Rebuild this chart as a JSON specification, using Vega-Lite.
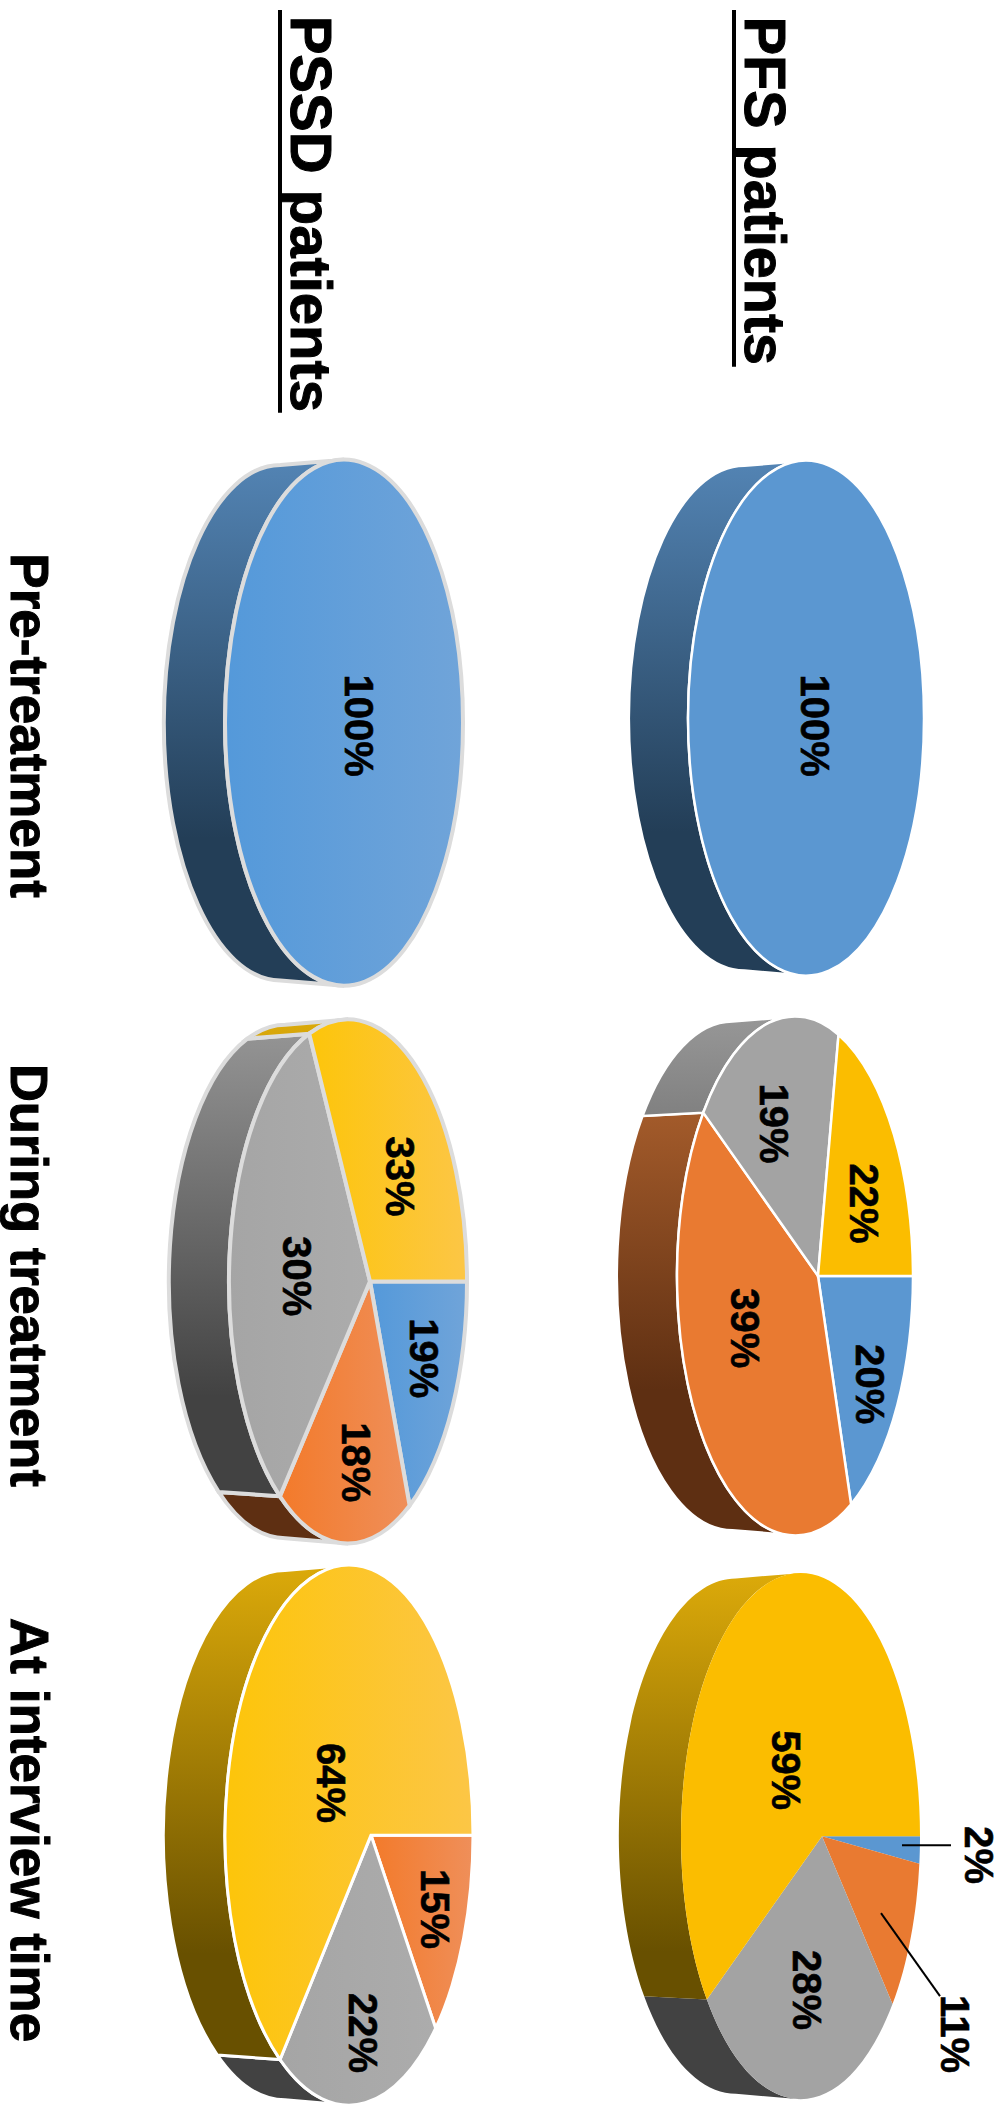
{
  "$schema": "https://vega.github.io/schema/vega-lite/v6.json",
  "width": 1005,
  "height": 2111,
  "padding": 0,
  "autosize": {"type": "fit", "contains": "padding"},
  "background": "white",
  "config": {"view": {"stroke": null}},
  "params": [
    {"name": "geom", "value": {
      "PFS|Pre-treatment": {"ax": 829, "ay": 718.5, "R": 95, "L": 141, "ry": 257.5, "D": 62, "sw": 2.5},
      "PFS|During treatment": {"ax": 818, "ay": 1276.5, "R": 95, "L": 141, "ry": 259.5, "D": 63, "sw": 2.5},
      "PFS|At interview time": {"ax": 822, "ay": 1837, "R": 98, "L": 141, "ry": 263, "D": 65, "sw": 0},
      "PSSD|Pre-treatment": {"ax": 365, "ay": 723, "R": 98, "L": 140, "ry": 263, "D": 64, "sw": 4},
      "PSSD|During treatment": {"ax": 370, "ay": 1282, "R": 97, "L": 141, "ry": 262, "D": 63, "sw": 4},
      "PSSD|At interview time": {"ax": 371, "ay": 1836, "R": 102, "L": 146, "ry": 270, "D": 64.5, "sw": 3}
    }},
    {"name": "labelAt", "value": {
      "PFS|Pre-treatment|A": [813, 726],
      "PFS|During treatment|A": [868, 1385],
      "PFS|During treatment|B": [743, 1329],
      "PFS|During treatment|C": [772, 1124],
      "PFS|During treatment|D": [862, 1204],
      "PFS|At interview time|A": [977, 1856],
      "PFS|At interview time|B": [953, 2035],
      "PFS|At interview time|C": [805, 1991],
      "PFS|At interview time|D": [784, 1771],
      "PSSD|Pre-treatment|A": [357, 726],
      "PSSD|During treatment|A": [422, 1359],
      "PSSD|During treatment|B": [354, 1463],
      "PSSD|During treatment|C": [295, 1277],
      "PSSD|During treatment|D": [398, 1177],
      "PSSD|At interview time|B": [433, 1910],
      "PSSD|At interview time|C": [361, 2034],
      "PSSD|At interview time|D": [329, 1784]
    }},
    {"name": "leader", "value": {
      "PFS|At interview time|A": [902, 1846, 951, 1846],
      "PFS|At interview time|B": [881, 1914, 940, 1997]
    }},
    {"name": "caption", "value": {
      "PFS patients": {"x": 745, "y": 191, "size": 57.5, "rule": [734, 10, 367]},
      "PSSD patients": {"x": 291, "y": 214, "size": 58, "rule": [280, 10, 413]},
      "Pre-treatment": {"x": 11, "y": 726, "size": 53},
      "During treatment": {"x": 11, "y": 1276, "size": 52.5},
      "At interview time": {"x": 11, "y": 1831, "size": 53}
    }}
  ],
  "data": {"values": [
    {"group": "PFS", "time": "Pre-treatment", "category": "A", "value": 100},
    {"group": "PFS", "time": "During treatment", "category": "A", "value": 20},
    {"group": "PFS", "time": "During treatment", "category": "B", "value": 39},
    {"group": "PFS", "time": "During treatment", "category": "C", "value": 19},
    {"group": "PFS", "time": "During treatment", "category": "D", "value": 22},
    {"group": "PFS", "time": "At interview time", "category": "A", "value": 2},
    {"group": "PFS", "time": "At interview time", "category": "B", "value": 11},
    {"group": "PFS", "time": "At interview time", "category": "C", "value": 28},
    {"group": "PFS", "time": "At interview time", "category": "D", "value": 59},
    {"group": "PSSD", "time": "Pre-treatment", "category": "A", "value": 100},
    {"group": "PSSD", "time": "During treatment", "category": "A", "value": 19},
    {"group": "PSSD", "time": "During treatment", "category": "B", "value": 18},
    {"group": "PSSD", "time": "During treatment", "category": "C", "value": 30},
    {"group": "PSSD", "time": "During treatment", "category": "D", "value": 33},
    {"group": "PSSD", "time": "At interview time", "category": "B", "value": 15},
    {"group": "PSSD", "time": "At interview time", "category": "C", "value": 22},
    {"group": "PSSD", "time": "At interview time", "category": "D", "value": 64}
  ]},
  "transform": [
    {"calculate": "datum.group+'|'+datum.time", "as": "pie"},
    {"calculate": "datum.pie+'|'+datum.category", "as": "key"},
    {"calculate": "geom[datum.pie]", "as": "g"},
    {"joinaggregate": [{"op": "sum", "field": "value", "as": "total"}], "groupby": ["pie"]},
    {"window": [{"op": "sum", "field": "value", "as": "cum"}], "groupby": ["pie"], "sort": [{"field": "category", "order": "ascending"}], "frame": [null, 0]},
    {"calculate": "2*PI*(datum.cum-datum.value)/datum.total", "as": "t0"},
    {"calculate": "2*PI*datum.cum/datum.total", "as": "t1"},
    {"calculate": "(datum.g.L-datum.g.R)/(datum.g.L+datum.g.R)", "as": "k"},
    {"calculate": "datum.g.R*(1+datum.k)", "as": "a"},
    {"calculate": "datum.g.ry*sqrt(1-datum.k*datum.k)", "as": "c"},
    {"calculate": "(datum.g.L+datum.g.R)/2", "as": "rx"},
    {"calculate": "datum.t0+(datum.t1-datum.t0)*0.25", "as": "th1"},
    {"calculate": "datum.t0+(datum.t1-datum.t0)*0.5", "as": "th2"},
    {"calculate": "datum.t0+(datum.t1-datum.t0)*0.75", "as": "th3"},
    {"calculate": "round(100*datum.a*cos(datum.t0)/(1+datum.k*cos(datum.t0)))/100+','+round(100*datum.c*sin(datum.t0)/(1+datum.k*cos(datum.t0)))/100", "as": "p0"},
    {"calculate": "round(100*datum.a*cos(datum.th1)/(1+datum.k*cos(datum.th1)))/100+','+round(100*datum.c*sin(datum.th1)/(1+datum.k*cos(datum.th1)))/100", "as": "p1"},
    {"calculate": "round(100*datum.a*cos(datum.th2)/(1+datum.k*cos(datum.th2)))/100+','+round(100*datum.c*sin(datum.th2)/(1+datum.k*cos(datum.th2)))/100", "as": "p2"},
    {"calculate": "round(100*datum.a*cos(datum.th3)/(1+datum.k*cos(datum.th3)))/100+','+round(100*datum.c*sin(datum.th3)/(1+datum.k*cos(datum.th3)))/100", "as": "p3"},
    {"calculate": "round(100*datum.a*cos(datum.t1)/(1+datum.k*cos(datum.t1)))/100+','+round(100*datum.c*sin(datum.t1)/(1+datum.k*cos(datum.t1)))/100", "as": "p4"},
    {"calculate": "'A'+datum.rx+','+datum.g.ry+' 0 0 1 '", "as": "arc"},
    {"calculate": "(datum.value<datum.total?'M0,0L':'M')+datum.p0+datum.arc+datum.p1+datum.arc+datum.p2+datum.arc+datum.p3+datum.arc+datum.p4+'Z'", "as": "facePath"},
    {"calculate": "acos(-datum.k)", "as": "tv"},
    {"calculate": "max(datum.t0,datum.tv)", "as": "w0"},
    {"calculate": "min(datum.t1,2*PI-datum.tv)", "as": "w1"},
    {"calculate": "datum.a*cos(datum.w0)/(1+datum.k*cos(datum.w0))", "as": "ax0"},
    {"calculate": "datum.c*sin(datum.w0)/(1+datum.k*cos(datum.w0))", "as": "ay0"},
    {"calculate": "datum.a*cos(datum.w1)/(1+datum.k*cos(datum.w1))", "as": "ax1"},
    {"calculate": "datum.c*sin(datum.w1)/(1+datum.k*cos(datum.w1))", "as": "ay1"},
    {"calculate": "'M'+(datum.g.R-datum.g.L)/2+','+(-datum.g.ry)+'L'+(datum.g.R-datum.g.L)/2+','+datum.g.ry+'Z'+'M'+round(datum.ax0*100)/100+','+round(datum.ay0*100)/100+datum.arc+round(datum.ax1*100)/100+','+round(datum.ay1*100)/100+'L'+round((0.98*datum.ax1-datum.g.D)*100)/100+','+round(0.98*datum.ay1*100)/100+'A'+0.98*datum.rx+','+0.98*datum.g.ry+' 0 0 0 '+round((0.98*datum.ax0-datum.g.D)*100)/100+','+round(0.98*datum.ay0*100)/100+'Z'", "as": "wallPath"},
    {"calculate": "datum.value+'%'", "as": "label"},
    {"calculate": "labelAt[datum.key][0]", "as": "lx"},
    {"calculate": "labelAt[datum.key][1]", "as": "ly"}
  ],
  "encoding": {
    "x": {"field": "g.ax", "type": "quantitative", "scale": {"domain": [0, 1005]}, "axis": null},
    "y": {"field": "g.ay", "type": "quantitative", "scale": {"domain": [2111, 0]}, "axis": null},
    "stroke": {"field": "pie", "type": "nominal", "legend": null, "scale": {
      "domain": ["PFS|Pre-treatment", "PFS|During treatment", "PFS|At interview time", "PSSD|Pre-treatment", "PSSD|During treatment", "PSSD|At interview time"],
      "range": ["#ffffff", "#ffffff", "#ffffff", "#dcdcdc", "#dcdcdc", "#ffffff"]}},
    "strokeWidth": {"field": "g.sw", "type": "quantitative", "scale": null, "legend": null}
  },
  "layer": [
    {
      "transform": [{"filter": "datum.w0<datum.w1 && datum.category==='A'"}],
      "mark": {"type": "point", "filled": true, "size": 4, "opacity": 1, "fill": {"gradient": "linear", "x1": 0, "y1": 0, "x2": 0, "y2": 1, "stops": [{"offset": 0, "color": "#5384b4"}, {"offset": 0.72, "color": "#233e57"}, {"offset": 1, "color": "#233e57"}]}},
      "encoding": {"shape": {"field": "wallPath", "type": "nominal", "scale": null}}
    },
    {
      "transform": [{"filter": "datum.w0<datum.w1 && datum.category==='B'"}],
      "mark": {"type": "point", "filled": true, "size": 4, "opacity": 1, "fill": {"gradient": "linear", "x1": 0, "y1": 0, "x2": 0, "y2": 1, "stops": [{"offset": 0, "color": "#bb6a33"}, {"offset": 0.72, "color": "#5e2f12"}, {"offset": 1, "color": "#5e2f12"}]}},
      "encoding": {"shape": {"field": "wallPath", "type": "nominal", "scale": null}}
    },
    {
      "transform": [{"filter": "datum.w0<datum.w1 && datum.category==='C'"}],
      "mark": {"type": "point", "filled": true, "size": 4, "opacity": 1, "fill": {"gradient": "linear", "x1": 0, "y1": 0, "x2": 0, "y2": 1, "stops": [{"offset": 0, "color": "#979797"}, {"offset": 0.72, "color": "#424242"}, {"offset": 1, "color": "#424242"}]}},
      "encoding": {"shape": {"field": "wallPath", "type": "nominal", "scale": null}}
    },
    {
      "transform": [{"filter": "datum.w0<datum.w1 && datum.category==='D'"}],
      "mark": {"type": "point", "filled": true, "size": 4, "opacity": 1, "fill": {"gradient": "linear", "x1": 0, "y1": 0, "x2": 0, "y2": 1, "stops": [{"offset": 0, "color": "#dcaa0a"}, {"offset": 0.72, "color": "#685000"}, {"offset": 1, "color": "#685000"}]}},
      "encoding": {"shape": {"field": "wallPath", "type": "nominal", "scale": null}}
    },
    {
      "transform": [{"filter": "datum.group==='PFS'"}],
      "mark": {"type": "point", "filled": true, "size": 4, "opacity": 1},
      "encoding": {
        "shape": {"field": "facePath", "type": "nominal", "scale": null},
        "fill": {"field": "category", "type": "nominal", "legend": null, "scale": {"domain": ["A", "B", "C", "D"], "range": ["#5b97d1", "#e97a31", "#a3a3a3", "#fbbd00"]}}
      }
    },
    {
      "transform": [{"filter": "datum.group==='PSSD' && datum.category==='A'"}],
      "mark": {"type": "point", "filled": true, "size": 4, "opacity": 1, "fill": {"gradient": "linear", "x1": 0, "y1": 0, "x2": 1, "y2": 0, "stops": [{"offset": 0, "color": "#5499da"}, {"offset": 1, "color": "#70a4d9"}]}},
      "encoding": {"shape": {"field": "facePath", "type": "nominal", "scale": null}}
    },
    {
      "transform": [{"filter": "datum.group==='PSSD' && datum.category==='B'"}],
      "mark": {"type": "point", "filled": true, "size": 4, "opacity": 1, "fill": {"gradient": "linear", "x1": 0, "y1": 0, "x2": 1, "y2": 0, "stops": [{"offset": 0, "color": "#f37a2a"}, {"offset": 1, "color": "#ef8f5a"}]}},
      "encoding": {"shape": {"field": "facePath", "type": "nominal", "scale": null}}
    },
    {
      "transform": [{"filter": "datum.group==='PSSD' && datum.category==='C'"}],
      "mark": {"type": "point", "filled": true, "size": 4, "opacity": 1, "fill": {"gradient": "linear", "x1": 0, "y1": 0, "x2": 1, "y2": 0, "stops": [{"offset": 0, "color": "#a5a5a5"}, {"offset": 1, "color": "#acacac"}]}},
      "encoding": {"shape": {"field": "facePath", "type": "nominal", "scale": null}}
    },
    {
      "transform": [{"filter": "datum.group==='PSSD' && datum.category==='D'"}],
      "mark": {"type": "point", "filled": true, "size": 4, "opacity": 1, "fill": {"gradient": "linear", "x1": 0, "y1": 0, "x2": 1, "y2": 0, "stops": [{"offset": 0, "color": "#fdc50a"}, {"offset": 1, "color": "#fcc646"}]}},
      "encoding": {"shape": {"field": "facePath", "type": "nominal", "scale": null}}
    },
    {
      "transform": [{"filter": "isDefined(leader[datum.key])"}, {"calculate": "leader[datum.key]", "as": "seg"}, {"calculate": "datum.seg[0]", "as": "x1"}, {"calculate": "datum.seg[1]", "as": "y1"}, {"calculate": "datum.seg[2]", "as": "x2"}, {"calculate": "datum.seg[3]", "as": "y2"}],
      "mark": {"type": "rule", "color": "black"},
      "encoding": {
        "x": {"field": "x1", "type": "quantitative", "scale": {"domain": [0, 1005]}, "axis": null},
        "y": {"field": "y1", "type": "quantitative", "scale": {"domain": [2111, 0]}, "axis": null},
        "x2": {"field": "x2"},
        "y2": {"field": "y2"},
        "stroke": {"value": "black"},
        "strokeWidth": {"value": 2}
      }
    },
    {
      "mark": {"type": "text", "angle": 90, "align": "center", "baseline": "middle", "font": "Liberation Sans", "fontWeight": "bold", "fontSize": 40, "color": "black"},
      "encoding": {
        "x": {"field": "lx", "type": "quantitative", "scale": {"domain": [0, 1005]}, "axis": null},
        "y": {"field": "ly", "type": "quantitative", "scale": {"domain": [2111, 0]}, "axis": null},
        "text": {"field": "label", "type": "nominal"},
        "stroke": {"value": "black"},
        "strokeWidth": {"value": 0.6}
      }
    },
    {
      "data": {"values": [{"label": "PFS patients"}, {"label": "PSSD patients"}, {"label": "Pre-treatment"}, {"label": "During treatment"}, {"label": "At interview time"}]},
      "transform": [{"calculate": "caption[datum.label].x", "as": "cx"}, {"calculate": "caption[datum.label].y", "as": "cy"}, {"calculate": "caption[datum.label].size", "as": "fs"}],
      "mark": {"type": "text", "angle": 90, "align": "center", "baseline": "alphabetic", "font": "Liberation Sans", "fontWeight": "bold", "color": "black"},
      "encoding": {
        "x": {"field": "cx", "type": "quantitative", "scale": {"domain": [0, 1005]}, "axis": null},
        "y": {"field": "cy", "type": "quantitative", "scale": {"domain": [2111, 0]}, "axis": null},
        "text": {"field": "label", "type": "nominal"},
        "size": {"field": "fs", "type": "quantitative", "scale": null, "legend": null},
        "stroke": {"value": "black"},
        "strokeWidth": {"value": 1}
      }
    },
    {
      "data": {"values": [{"label": "PFS patients"}, {"label": "PSSD patients"}]},
      "transform": [{"calculate": "caption[datum.label].rule", "as": "r"}, {"calculate": "datum.r[0]", "as": "ux"}, {"calculate": "datum.r[1]", "as": "uy0"}, {"calculate": "datum.r[2]", "as": "uy1"}],
      "mark": {"type": "rule", "color": "black"},
      "encoding": {
        "x": {"field": "ux", "type": "quantitative", "scale": {"domain": [0, 1005]}, "axis": null},
        "y": {"field": "uy0", "type": "quantitative", "scale": {"domain": [2111, 0]}, "axis": null},
        "y2": {"field": "uy1"},
        "stroke": {"value": "black"},
        "strokeWidth": {"value": 4}
      }
    }
  ]
}
